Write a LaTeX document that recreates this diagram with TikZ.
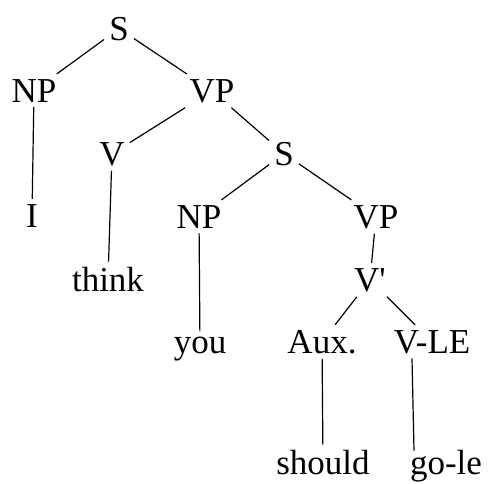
\documentclass[tikz,border=0pt]{standalone}
\usepackage{fontspec}
\setmainfont{Liberation Serif}

\begin{document}
\begin{tikzpicture}
[lineDecorate/.style={-,line width=1.2pt},%
  nodeDecorate/.style={anchor=base,inner sep=5pt},%
  x=1pt,y=-1pt]
\fontsize{35}{42}\selectfont
\useasboundingbox (0,0) rectangle (488,483);
%% nodes or words
\foreach \nodename/\x/\y/\word in {
  s0/119/40/S, np1/34/102/NP, vp1/212/102/VP, v1/112/165/V,
  s1/284/165/S, i/32/227/I, np2/199/228/NP, vp2/376/228/VP,
  think/108/291/think, vbar/370/291/V\textquotesingle, you/200/353/you,
  aux/322/353/Aux., vle/432/353/V-LE, should/323/474/should,
  gole/446/474/go-le}
{
  \node (\nodename) at (\x,\y) [nodeDecorate] {\word};
}
%% branches
\path
\foreach \startnode/\endnode in {
  s0/np1, s0/vp1, np1/i, vp1/v1, vp1/s1, v1/think, s1/np2, s1/vp2,
  np2/you, vp2/vbar, vbar/aux, vbar/vle, aux/should}
{
  (\startnode) edge[lineDecorate] (\endnode)
};
\draw[lineDecorate] ([xshift=-20pt]vle.south) -- ([xshift=-32pt,yshift=-6pt]gole.north);
\end{tikzpicture}
\end{document}
